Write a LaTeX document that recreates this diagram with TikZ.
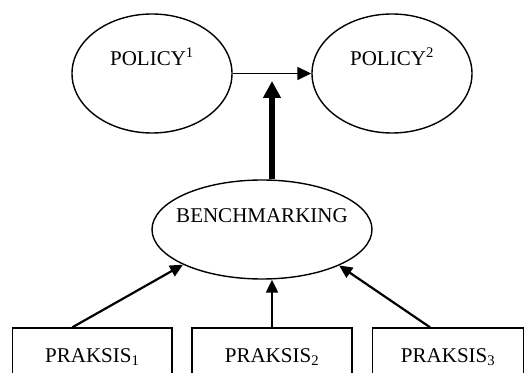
\documentclass[tikz,border=0pt]{standalone}
\usepackage{fontspec}
\setmainfont{Liberation Serif}
\usetikzlibrary{arrows.meta,shapes.geometric}

\tikzset{
  oval/.style={draw,ellipse,line width=1.4pt},
  praksis/.style={draw,rectangle,line width=1.3pt,minimum height=58pt},
  link/.style={line width=2.2pt,-{Triangle[length=13pt,width=12pt]}},
}

\begin{document}
\begin{tikzpicture}[x=1pt,y=1pt,font=\fontsize{21}{25}\selectfont]
\clip (0,0) rectangle (524,372);

% policies
\node[oval,minimum width=160pt,minimum height=119pt,
  label={[yshift=16.5pt]center:POLICY\textsuperscript{1}}] (pol1) at (152,298.5) {};
\node[oval,minimum width=160pt,minimum height=119pt,
  label={[yshift=16.5pt]center:POLICY\textsuperscript{2}}] (pol2) at (392,298.5) {};

\node[oval,minimum width=220pt,minimum height=99pt,
  label={[yshift=14pt]center:BENCHMARKING}] (bench) at (262,142.5) {};

% practices
\node[praksis,minimum width=159.4pt] (prak1) at (92.3,15) {PRAKSIS\textsubscript{1}};
\node[praksis,minimum width=160pt] (prak2) at (272,15) {PRAKSIS\textsubscript{2}};
\node[praksis,minimum width=150.8pt] (prak3) at (448.1,15) {PRAKSIS\textsubscript{3}};

\coordinate (join) at (272,291);

\draw[line width=1.4pt,-{Triangle[length=14pt,width=13pt]}] (pol1) -- (pol2);
\draw[line width=5.5pt,-{Triangle[length=17pt,width=17pt]}] ([xshift=10pt]bench.north) -- (join);

\draw[link] ([xshift=-20pt]prak1.north) -- (bench.204);
\draw[link] (prak2.north) -- (prak2.north |- bench.south);
\draw[link] ([xshift=-18pt]prak3.north) -- (bench.335);

\end{tikzpicture}
\end{document}
